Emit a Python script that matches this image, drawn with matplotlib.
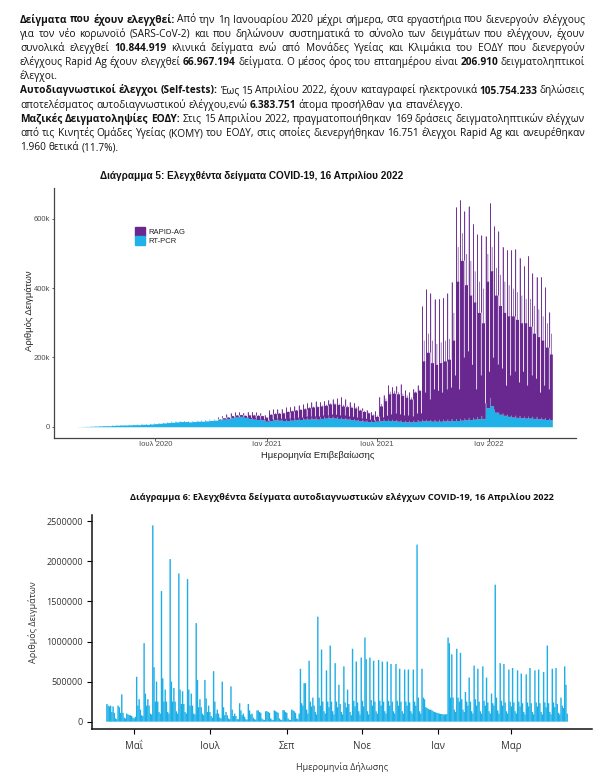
import numpy as np
import pandas as pd
import matplotlib
matplotlib.use('Agg')
import matplotlib.pyplot as plt
from matplotlib.patches import Patch

# ---------------- text block ----------------
para_lines = [
    ('**Δείγματα που έχουν ελεγχθεί:** Από την 1η Ιανουαρίου 2020 μέχρι σήμερα, στα εργαστήρια που διενεργούν ελέγχους', True),
    ('για τον νέο κορωνοϊό (SARS-CoV-2) και που δηλώνουν συστηματικά το σύνολο των δειγμάτων που ελέγχουν, έχουν', True),
    ('συνολικά ελεγχθεί **10.844.919** κλινικά δείγματα ενώ από Μονάδες Υγείας και Κλιμάκια του ΕΟΔΥ που διενεργούν', True),
    ('ελέγχους Rapid Ag έχουν ελεγχθεί **66.967.194** δείγματα. Ο μέσος όρος του επταημέρου είναι **206.910** δειγματοληπτικοί', True),
    ('έλεγχοι.', False),
    ('**Αυτοδιαγνωστικοί έλεγχοι (Self-tests):** Έως 15 Απριλίου 2022, έχουν καταγραφεί ηλεκτρονικά **105.754.233** δηλώσεις', True),
    ('αποτελέσματος αυτοδιαγνωστικού ελέγχου,ενώ **6.383.751** άτομα προσήλθαν για επανέλεγχο.', False),
    ('**Μαζικές Δειγματοληψίες ΕΟΔΥ:** Στις 15 Απριλίου 2022, πραγματοποιήθηκαν 169 δράσεις δειγματοληπτικών ελέγχων', True),
    ('από τις Κινητές Ομάδες Υγείας (ΚΟΜΥ) του ΕΟΔΥ, στις οποίες διενεργήθηκαν 16.751 έλεγχοι Rapid Ag και ανευρέθηκαν', True),
    ('1.960 θετικά (11.7%).', False),
]

# ---------------- chart 5 data (thousands, one value per week, weeks start Mon 24 Feb 2020) ----------------
c5_start = '2020-02-24'
c5_end = '2022-04-16'

pcr = [0.3, 0.6, 1.0, 1.5, 2.0, 2.5, 3.0, 3.0, 4.0, 4.5,
       5, 5, 5.5, 6, 6, 7, 7, 8, 9, 10,
       11, 12, 13, 14, 15, 15, 14, 15, 16, 16,
       17, 18, 19, 20, 22, 23, 26, 28, 30, 27,
       24, 22, 21, 20, 16, 18, 20, 19, 18, 18,
       19, 20, 21, 22, 22, 23, 22, 24, 25, 26,
       25, 24, 23, 22, 20, 19, 17, 16, 15, 15,
       16, 17, 18, 18, 17, 16, 15, 14, 14, 15,
       16, 17, 17, 16, 16, 16, 17, 17, 18, 18,
       19, 20, 21, 22, 23, 24, 55, 60, 42, 36,
       33, 30, 28, 27, 26, 25, 25, 24, 23, 22,
       21, 20]
pcr_peak = [0.4, 0.8, 1.3, 2.0, 2.5, 3.0, 3.5, 3.8, 5.0, 5.5,
            6, 6, 7, 7, 8, 9, 9, 10, 11, 12,
            13, 14, 16, 17, 18, 18, 17, 18, 19, 19,
            21, 22, 23, 25, 27, 29, 32, 33, 35, 33,
            29, 27, 26, 25, 21, 23, 25, 24, 23, 23,
            24, 25, 26, 27, 28, 29, 28, 30, 31, 32,
            31, 30, 29, 27, 25, 24, 22, 21, 20, 20,
            21, 22, 23, 23, 22, 21, 20, 19, 19, 20,
            21, 22, 22, 21, 21, 22, 23, 23, 24, 24,
            25, 26, 27, 28, 30, 33, 70, 85, 52, 44,
            40, 37, 35, 34, 33, 32, 32, 31, 30, 28,
            27, 26]
rapid_base = [0] * 33 + [2, 4, 5, 6, 6, 5, 6, 10, 12, 12, 12, 12,
              18, 18, 20, 22, 26, 27, 28, 29, 30, 33, 34, 36,
              36, 37, 40, 41, 40, 37, 36, 36, 35, 31, 28, 25, 19, 14,
              43, 57, 77, 80, 79, 75, 71, 66, 85, 89,
              173, 198, 169, 164, 169, 173, 178, 232,
              402, 461, 390, 359, 338, 307, 276, 365, 390, 338, 314, 297,
              290, 292, 283, 274, 275, 265, 246, 237, 228, 209, 190]
rapid_peak = [0] * 33 + [3, 5, 7, 8, 9, 8, 8, 15, 17, 16, 15, 14,
              25, 25, 27, 29, 33, 34, 35, 36, 38, 41, 42, 45,
              42, 44, 46, 49, 52, 58, 53, 47, 46, 38, 33, 29, 24, 25,
              65, 69, 97, 94, 97, 103, 87, 81, 90, 99,
              326, 375, 364, 347, 348, 350, 362, 394,
              610, 630, 596, 609, 558, 525, 519, 480, 561, 527, 520, 480,
              474, 476, 479, 455, 432, 462, 412, 403, 405, 376, 305]
rapid_mid = [0] * 33 + [3, 4, 6, 7, 7, 6, 7, 12, 14, 14, 13, 12,
             20, 21, 22, 24, 28, 29, 30, 31, 33, 36, 37, 39,
             39, 40, 43, 44, 44, 42, 40, 40, 39, 34, 31, 28, 22, 18,
             50, 65, 85, 88, 85, 82, 78, 72, 88, 92,
             233, 253, 234, 224, 229, 233, 238, 312,
             502, 541, 480, 459, 428, 397, 376, 445, 460, 418, 404, 387,
             380, 372, 363, 354, 345, 345, 326, 317, 298, 279, 250]
rapid_low = [0] * 33 + [1, 2, 2, 2, 2, 2, 2, 3, 4, 4, 3, 3,
             5, 5, 6, 6, 7, 7, 8, 8, 8, 9, 9, 10,
             10, 10, 11, 11, 11, 10, 10, 10, 9, 8, 8, 7, 5, 4,
             12, 15, 20, 22, 22, 20, 20, 18, 25, 25,
             83, 63, 94, 89, 84, 93, 98, 132,
             92, 181, 200, 159, 88, 127, 46, 105, 140, 138, 134, 87,
             120, 132, 103, 134, 95, 125, 116, 77, 98, 89, 160]

c5_yticks = [0, 200000, 400000, 600000]
c5_ylabels = ['0', '200k', '400k', '600k']
c5_xticks = ['2020-07-01', '2021-01-01', '2021-07-01', '2022-01-01']
c5_xlabels = ['Ιουλ 2020', 'Ιαν 2021', 'Ιουλ 2021', 'Ιαν 2022']

# ---------------- chart 6 data (thousands, weekly rows Sun..Sat, from Sun 4 Apr 2021) ----------------
c6_start = '2021-04-04'
selftest_weeks = [
    [0, 0, 0, 0, 0, 220, 200],
    [190, 200, 120, 190, 110, 40, 30],
    [200, 180, 110, 340, 110, 50, 40],
    [100, 90, 80, 80, 70, 50, 40],
    [60, 560, 200, 280, 150, 80, 70],
    [980, 350, 200, 280, 200, 100, 90],
    [2450, 680, 250, 500, 250, 120, 100],
    [1630, 540, 250, 400, 250, 120, 100],
    [2030, 500, 250, 420, 250, 130, 100],
    [1850, 400, 220, 380, 220, 120, 100],
    [1780, 400, 200, 350, 200, 100, 90],
    [1230, 520, 180, 280, 180, 100, 80],
    [520, 290, 120, 200, 120, 70, 50],
    [630, 250, 100, 150, 100, 50, 40],
    [500, 180, 80, 120, 80, 40, 30],
    [440, 150, 70, 100, 70, 30, 30],
    [230, 140, 80, 100, 60, 30, 25],
    [220, 140, 90, 100, 50, 30, 25],
    [140, 140, 120, 110, 40, 25, 20],
    [130, 130, 120, 110, 40, 25, 20],
    [140, 130, 120, 110, 40, 25, 20],
    [145, 140, 120, 110, 40, 25, 20],
    [150, 140, 130, 110, 40, 30, 100],
    [660, 230, 200, 480, 480, 150, 100],
    [760, 250, 190, 300, 200, 120, 90],
    [1310, 300, 200, 900, 250, 130, 100],
    [640, 250, 180, 950, 250, 130, 90],
    [730, 250, 180, 460, 220, 120, 90],
    [690, 240, 180, 400, 220, 120, 80],
    [910, 260, 190, 750, 240, 130, 90],
    [800, 260, 190, 1050, 780, 130, 90],
    [800, 270, 200, 760, 250, 130, 100],
    [770, 260, 200, 750, 250, 130, 100],
    [750, 260, 200, 720, 250, 130, 100],
    [720, 260, 200, 660, 250, 130, 100],
    [650, 250, 200, 650, 240, 130, 100],
    [650, 250, 200, 2210, 300, 130, 100],
    [660, 300, 280, 180, 170, 160, 150],
    [150, 140, 130, 120, 115, 110, 105],
    [100, 95, 95, 90, 90, 90, 95],
    [1050, 980, 300, 840, 300, 150, 120],
    [910, 300, 250, 860, 280, 150, 120],
    [370, 250, 200, 550, 250, 130, 100],
    [700, 280, 200, 660, 250, 130, 100],
    [690, 260, 200, 550, 240, 130, 100],
    [350, 230, 200, 1710, 300, 140, 100],
    [730, 260, 200, 720, 240, 130, 100],
    [650, 250, 190, 670, 240, 130, 100],
    [640, 250, 190, 600, 230, 120, 90],
    [590, 240, 190, 670, 230, 120, 90],
    [640, 240, 190, 650, 230, 120, 90],
    [620, 240, 180, 950, 230, 120, 90],
    [660, 240, 180, 670, 220, 110, 90],
    [300, 200, 170, 690, 460, 100],
]
c6_yticks = [0, 500000, 1000000, 1500000, 2000000, 2500000]
c6_xticks = ['2021-05-01', '2021-07-01', '2021-09-01', '2021-11-01', '2022-01-01', '2022-03-01']
c6_xlabels = ['Μαΐ', 'Ιουλ', 'Σεπ', 'Νοε', 'Ιαν', 'Μαρ']

RAPID_COLOR = '#68288f'
PCR_COLOR = '#1fb1e8'
SELF_COLOR = '#1caee6'
TEXT_FONT = ['Open Sans', 'DejaVu Sans']
R_FONT = ['Liberation Sans', 'DejaVu Sans']

W, H = 605, 779
fig = plt.figure(figsize=(W / 100, H / 100), dpi=100)


def fx(px):
    return px / W


def fy(py):
    return 1 - py / H


# ---------------- justified paragraph ----------------
def split_words(line):
    words, cur = [], []
    for k, part in enumerate(line.split('**')):
        for j, chunk in enumerate(part.split(' ')):
            if j > 0 and cur:
                words.append(cur)
                cur = []
            if chunk:
                cur.append((chunk, k % 2 == 1))
    if cur:
        words.append(cur)
    return words


renderer = fig.canvas.get_renderer()


def piece_width(s, bold, size):
    t = fig.text(0, 0, s, fontsize=size, family=TEXT_FONT,
                 fontweight='bold' if bold else 'normal')
    w = t.get_window_extent(renderer).width
    t.remove()
    return w


x_left, x_right = 20, 585
min_gap = 2.4
# biggest size at which every justified line still fits with a small gap
probe = 7.0
sizes = []
for line, justify in para_lines:
    if justify:
        ws = split_words(line)
        wsum = sum(piece_width(s, b, probe) for w in ws for s, b in w)
        sizes.append(probe * (x_right - x_left - min_gap * (len(ws) - 1)) / wsum)
TSIZE = min(sizes)

space_w = piece_width('a a', False, TSIZE) - piece_width('aa', False, TSIZE)
for i, (line, justify) in enumerate(para_lines):
    base = 22.5 + i * 14.2
    words = split_words(line)
    widths = [[piece_width(s, b, TSIZE) for s, b in w] for w in words]
    total = sum(sum(w) for w in widths)
    gap = (x_right - x_left - total) / (len(words) - 1) if justify else space_w
    x = x_left
    for word, ws in zip(words, widths):
        for (s, b), pw in zip(word, ws):
            fig.text(fx(x), fy(base), s, fontsize=TSIZE, family=TEXT_FONT,
                     fontweight='bold' if b else 'normal', color='#111111',
                     ha='left', va='baseline')
            x += pw
        x += gap

# ---------------- chart 5 ----------------
d5 = pd.date_range(c5_start, c5_end)
idx = np.arange(len(d5))
wk = idx // 7
dow = idx % 7
pcr_a = np.array(pcr) * 1000
pcr_pk = np.array(pcr_peak) * 1000
pcr_day = np.where(dow == 0, pcr_pk[wk], pcr_a[wk])
rapid_day = np.select(
    [dow == 0, dow == 3, dow == 6],
    [np.array(rapid_peak)[wk], np.array(rapid_mid)[wk], np.array(rapid_low)[wk]],
    np.array(rapid_base)[wk]) * 1000
total_day = pcr_day + rapid_day

ax5 = fig.add_axes([fx(54), fy(437.5), fx(576) - fx(54), fy(188) - fy(437.5)])
ax5.fill_between(d5, 0, pcr_day, step='mid', color=PCR_COLOR, linewidth=0)
ax5.fill_between(d5, pcr_day, total_day, step='mid', color=RAPID_COLOR, linewidth=0)
# one-day spikes and dips are narrower than a pixel: stroke them so they stay crisp
pk = (dow == 0) & (rapid_day > 0)
ax5.vlines(d5[pk], pcr_day[pk], total_day[pk], color=RAPID_COLOR, linewidth=0.6)
lo = (dow == 6) & (rapid_day > 0)
lo_idx = np.where(lo)[0]
lo_idx = lo_idx[lo_idx + 1 < len(d5)]
gap_top = np.minimum(total_day[lo_idx - 1], total_day[lo_idx + 1])
ax5.vlines(d5[lo_idx], total_day[lo_idx], gap_top, color='white', linewidth=0.45)
ax5.set_xlim(pd.Timestamp(c5_start) - pd.Timedelta(days=39), pd.Timestamp(c5_end) + pd.Timedelta(days=39))
ax5.set_ylim(-31000, 689000)
ax5.set_yticks(c5_yticks)
ax5.set_yticklabels(c5_ylabels, family=R_FONT)
ax5.set_xticks(pd.to_datetime(c5_xticks))
ax5.set_xticklabels(c5_xlabels, family=R_FONT)
ax5.tick_params(labelsize=5.5, labelcolor='#4d4d4d', color='#444444', length=1.8, width=0.6, pad=1.0)
for s in ['top', 'right']:
    ax5.spines[s].set_visible(False)
for s in ['left', 'bottom']:
    ax5.spines[s].set_color('#444444')
    ax5.spines[s].set_linewidth(0.9)
ax5.legend(handles=[Patch(color=RAPID_COLOR), Patch(color=PCR_COLOR)],
           labels=['RAPID-AG', 'RT-PCR'], loc='upper left', bbox_to_anchor=(0.155, 0.845),
           frameon=False, prop={'family': R_FONT, 'size': 5.5},
           handlelength=1.35, handleheight=1.45, handletextpad=0.45,
           labelspacing=0.05, borderaxespad=0, borderpad=0, labelcolor='#222222')
fig.text(fx(252), fy(176), 'Διάγραμμα 5: Ελεγχθέντα δείγματα COVID-19, 16 Απριλίου 2022',
         family=R_FONT, fontsize=7.2, fontweight='bold', ha='center', va='center', color='#111111')
fig.text(fx(318), fy(455), 'Ημερομηνία Επιβεβαίωσης', family=R_FONT, fontsize=6.8,
         ha='center', va='center', color='#222222')
fig.text(fx(29), fy(311), 'Αριθμός Δειγμάτων', family=R_FONT, fontsize=6.8, rotation=90,
         ha='center', va='center', color='#222222')

# ---------------- chart 6 ----------------
self_vals = np.array([v for week in selftest_weeks for v in week]) * 1000
d6 = pd.date_range(c6_start, periods=len(self_vals))
ax6 = fig.add_axes([fx(92), fy(729), fx(592) - fx(92), fy(515) - fy(729)])
ax6.bar(d6[5:], self_vals[5:], width=1.12, color=SELF_COLOR, linewidth=0, snap=False)
ax6.set_xlim(pd.Timestamp('2021-03-28'), pd.Timestamp('2022-05-05'))
ax6.set_ylim(-92000, 2580000)
ax6.set_yticks(c6_yticks)
ax6.set_yticklabels([str(v) for v in c6_yticks], family=TEXT_FONT)
ax6.set_xticks(pd.to_datetime(c6_xticks))
ax6.set_xticklabels(c6_xlabels, family=TEXT_FONT)
ax6.tick_params(axis='y', labelsize=6.5, labelcolor='#333333', length=3.5, width=0.8, pad=3)
ax6.tick_params(axis='x', labelsize=7, labelcolor='#333333', length=3.5, width=0.8, pad=5)
for s in ['top', 'right']:
    ax6.spines[s].set_visible(False)
for s in ['left', 'bottom']:
    ax6.spines[s].set_color('#111111')
    ax6.spines[s].set_linewidth(1.1)
fig.text(fx(342), fy(497),
         'Διάγραμμα 6: Ελεγχθέντα δείγματα αυτοδιαγνωστικών ελέγχων COVID-19, 16 Απριλίου 2022',
         family=TEXT_FONT, fontsize=6.6, fontweight='bold', ha='center', va='center', color='#111111')
fig.text(fx(342), fy(767), 'Ημερομηνία Δήλωσης', family=TEXT_FONT, fontsize=6.5,
         ha='center', va='center', color='#333333')
fig.text(fx(33), fy(622), 'Αριθμός Δειγμάτων', family=TEXT_FONT, fontsize=6.5, rotation=90,
         ha='center', va='center', color='#333333')

fig.savefig('out.png', dpi=100)
